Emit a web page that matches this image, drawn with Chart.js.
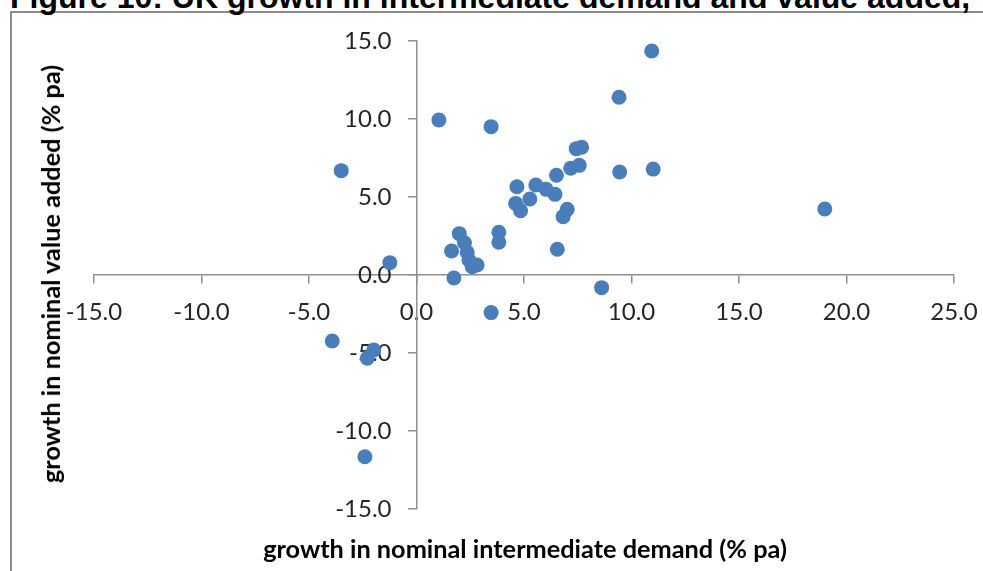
<!DOCTYPE html>
<html>
<head>
<meta charset="utf-8">
<script src="https://cdn.jsdelivr.net/npm/chart.js@4.4.1/dist/chart.umd.min.js"></script>
<style>
html,body{margin:0;padding:0;background:#fff;overflow:hidden;}
#wrap{position:relative;width:983px;height:571px;overflow:hidden;background:#fff;}
#frame{position:absolute;left:10px;top:11px;width:1100px;height:700px;border-left:2px solid #8c8c8c;border-top:2px solid #8c8c8c;}
#title{position:absolute;left:10px;top:-19px;font:bold 32px "Liberation Sans",Arial,sans-serif;line-height:32px;white-space:nowrap;color:#000;}
#chart{position:absolute;left:0;top:0;}
#xt{position:absolute;left:525px;top:548px;transform:translate(-50%,-50%);font:bold 25.3px Lato,"Open Sans",sans-serif;white-space:nowrap;color:#000;}
#yt{position:absolute;left:50px;top:274px;transform:translate(-50%,-50%) rotate(-90deg);font:bold 25.3px Lato,"Open Sans",sans-serif;white-space:nowrap;color:#000;}
</style>
</head>
<body>
<div id="wrap">
  <div id="frame"></div>
  <div id="title">Figure 10: UK growth in intermediate demand and value added,</div>
  <canvas id="chart" width="983" height="571"></canvas>
  <div id="xt">growth in nominal intermediate demand (% pa)</div>
  <div id="yt">growth in nominal value added (% pa)</div>
</div>
<script>
// growth in nominal intermediate demand (% pa)
const xValues = [-3.50, 1.04, 3.47, 10.94, 9.42, 9.45, 11.01, -1.24, 1.74, 8.61,
                 1.63, 1.99, 2.23, 2.36, 2.44, 2.59, 2.82, 3.83, 3.83, 4.67,
                 4.61, 4.84, 5.27, 5.55, 6.03, 6.44, 6.51, 6.82, 7.01, 6.55,
                 7.17, 7.57, 7.43, 7.68, 3.47, -3.92, -1.99, -2.29, -2.40, 18.99];
// growth in nominal value added (% pa)
const yValues = [6.69, 9.94, 9.51, 14.36, 11.39, 6.60, 6.79, 0.79, -0.19, -0.81,
                 1.54, 2.65, 2.07, 1.45, 0.96, 0.53, 0.64, 2.74, 2.10, 5.66,
                 4.59, 4.12, 4.87, 5.77, 5.49, 5.17, 6.39, 3.74, 4.21, 1.65,
                 6.84, 7.03, 8.10, 8.19, -2.41, -4.23, -4.81, -5.34, -11.65, 4.23];
const xTicks = [-15, -10, -5, 0, 5, 10, 15, 20, 25];
const yTicks = [-15, -10, -5, 0, 5, 10, 15];

const points = xValues.map((x, i) => ({x: x, y: yValues[i]}));

const axisColor = '#8f8f8f';
const tickFont = {family: 'Lato', size: 24};
const Y_TICK_LEN = 8, Y_TICK_PAD = 17;

// For an axis crossing at a data value, Chart.js right-aligns y labels on the axis line;
// move them left by tick length + padding, as in the reference.
const yLabelShift = {
  id: 'yLabelShift',
  beforeDraw(chart) {
    const s = chart.scales.y;
    if (!s || s._shifted) return;
    const items = s.getLabelItems(chart.chartArea);
    items.forEach(it => { it.options.translation[0] -= (Y_TICK_LEN + Y_TICK_PAD); });
    s._shifted = true;
  }
};

new Chart(document.getElementById('chart'), {
  type: 'scatter',
  data: {
    datasets: [{
      data: points,
      backgroundColor: '#4a7ebb',
      borderColor: '#4a7ebb',
      borderWidth: 0,
      pointRadius: 7.5,
      pointHoverRadius: 7.5
    }]
  },
  plugins: [yLabelShift],
  options: {
    responsive: false,
    animation: false,
    events: [],
    layout: {padding: {left: 94, right: 29, top: 41, bottom: 62}},
    plugins: {legend: {display: false}, tooltip: {enabled: false}, title: {display: false}},
    scales: {
      x: {
        type: 'linear',
        min: xTicks[0], max: xTicks[xTicks.length - 1],
        position: {y: 0},
        afterBuildTicks: s => { s.ticks = xTicks.map(v => ({value: v})); },
        afterFit: s => { s.paddingLeft = 0; s.paddingRight = 0; },
        grid: {drawOnChartArea: false, drawTicks: true, tickLength: 8, color: axisColor, lineWidth: 1.5},
        border: {display: true, color: axisColor, width: 1.5},
        ticks: {autoSkip: false, maxRotation: 0, padding: 15, color: '#262626', font: tickFont,
                callback: v => Number(v).toFixed(1)}
      },
      y: {
        type: 'linear',
        min: yTicks[0], max: yTicks[yTicks.length - 1],
        position: {x: 0},
        afterBuildTicks: s => { s.ticks = yTicks.map(v => ({value: v})); },
        afterFit: s => { s.paddingTop = 0; s.paddingBottom = 0; },
        grid: {drawOnChartArea: false, drawTicks: true, tickLength: Y_TICK_LEN, color: axisColor, lineWidth: 1.5},
        border: {display: true, color: axisColor, width: 1.5},
        ticks: {autoSkip: false, padding: Y_TICK_PAD, color: '#262626', font: tickFont,
                callback: v => Number(v).toFixed(1)}
      }
    }
  }
});
</script>
</body>
</html>
